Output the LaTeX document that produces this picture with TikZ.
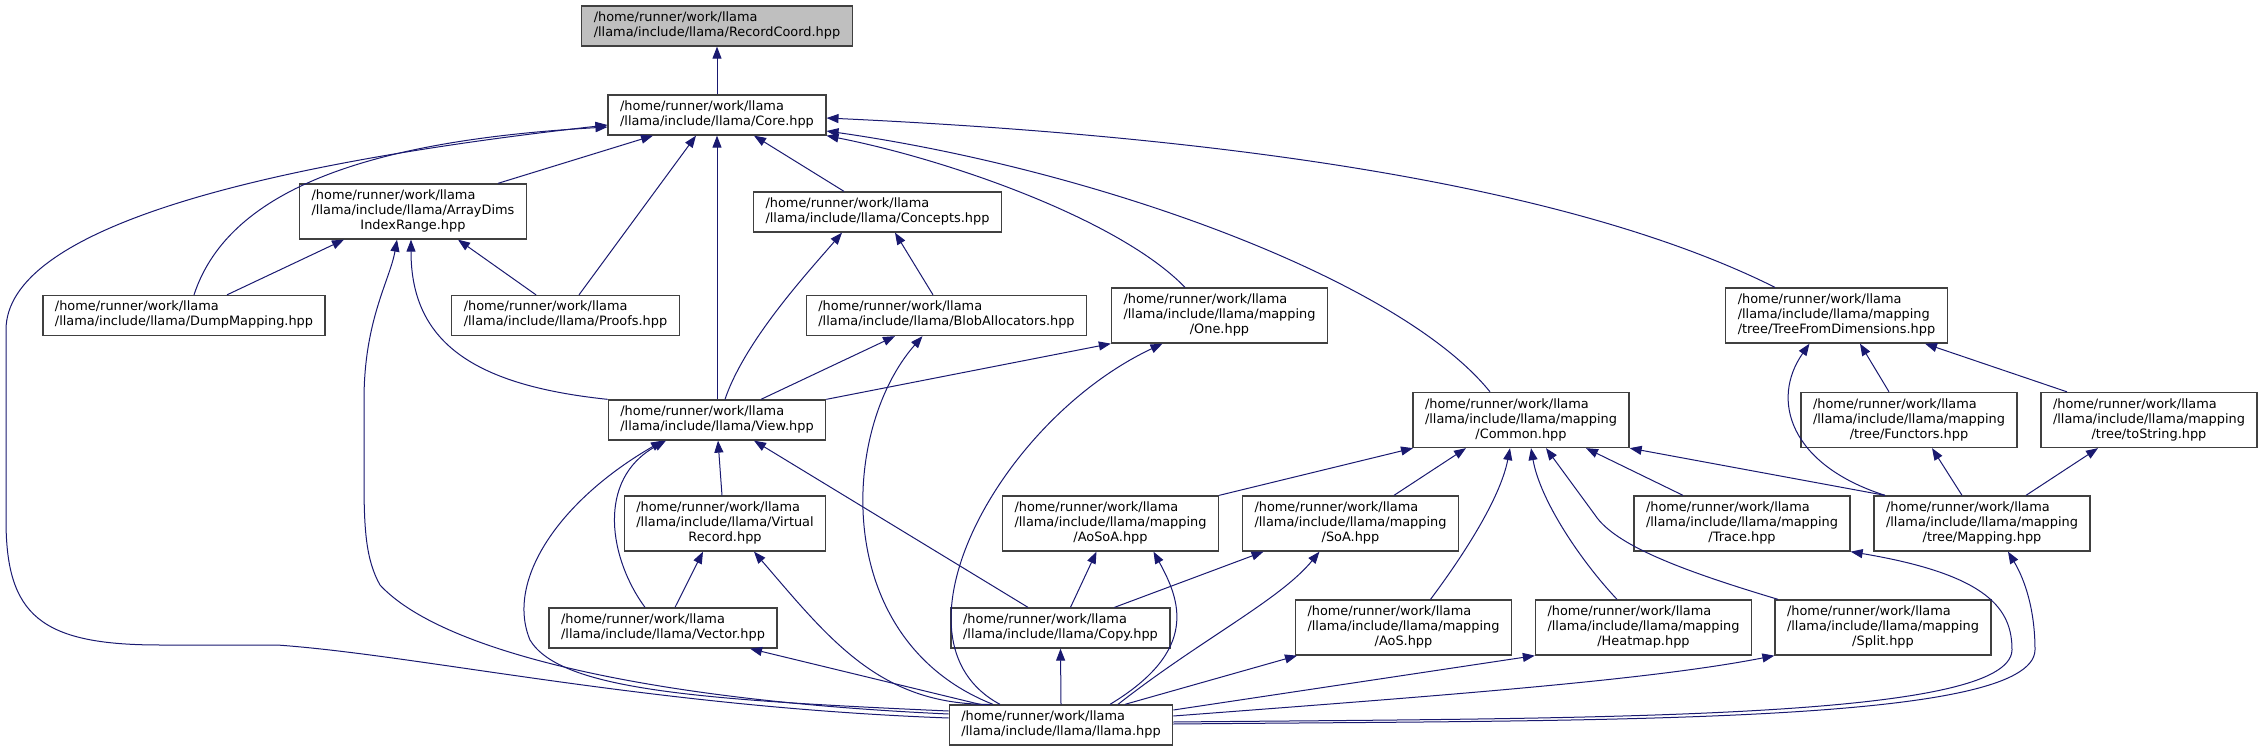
\documentclass[tikz,border=0pt]{standalone}
\usepackage{fontspec}
\setmainfont{DejaVu Sans}
\usepackage{xcolor}
\usetikzlibrary{arrows.meta}
\definecolor{cEdge}{RGB}{25,25,112}
\definecolor{cFrame}{RGB}{64,64,64}
\definecolor{cRoot}{RGB}{191,191,191}
\newcommand{\hpre}{/home/runner/work/llama}
\newcommand{\zwei}[2]{\begin{tabular}{@{}l@{}}#1\\#2\end{tabular}}
\newcommand{\drei}[3]{\begin{tabular}{@{}l@{}}#1\\#2\\\multicolumn{1}{@{}c@{}}{#3}\end{tabular}}

\begin{document}
\begin{tikzpicture}[x=1pt,y=-1pt,
  file/.style={draw=cFrame,line width=1.3pt,fill=white,inner xsep=12pt,inner ysep=5pt,font=\fontsize{12.9}{15}\selectfont},
  dep/.style={draw=cEdge,line width=1pt,-{Triangle[length=12pt,width=9pt]}}]
\useasboundingbox (0,0) rectangle (2263,751);
% files
\node[file,fill=cRoot] (rc) at (717,26) {\zwei{\hpre}{/llama/include/llama/RecordCoord.hpp}};
\node[file] (core) at (717,115) {\zwei{\hpre}{/llama/include/llama/Core.hpp}};
\node[file] (adir) at (413,211.5) {\drei{\hpre}{/llama/include/llama/ArrayDims}{IndexRange.hpp}};
\node[file] (concepts) at (877.5,212) {\zwei{\hpre}{/llama/include/llama/Concepts.hpp}};
\node[file] (dump) at (184,315.5) {\zwei{\hpre}{/llama/include/llama/DumpMapping.hpp}};
\node[file] (proofs) at (565.5,315.5) {\zwei{\hpre}{/llama/include/llama/Proofs.hpp}};
\node[file] (blob) at (946.5,315.5) {\zwei{\hpre}{/llama/include/llama/BlobAllocators.hpp}};
\node[file] (one) at (1219.5,315.5) {\drei{\hpre}{/llama/include/llama/mapping}{/One.hpp}};
\node[file] (tfd) at (1836.5,315.5) {\drei{\hpre}{/llama/include/llama/mapping}{/tree/TreeFromDimensions.hpp}};
\node[file] (view) at (717,420) {\zwei{\hpre}{/llama/include/llama/View.hpp}};
\node[file] (common) at (1521,420) {\drei{\hpre}{/llama/include/llama/mapping}{/Common.hpp}};
\node[file] (functors) at (1909,420) {\drei{\hpre}{/llama/include/llama/mapping}{/tree/Functors.hpp}};
\node[file] (tostring) at (2149,420) {\drei{\hpre}{/llama/include/llama/mapping}{/tree/toString.hpp}};
\node[file] (vrec) at (725,523.5) {\drei{\hpre}{/llama/include/llama/Virtual}{Record.hpp}};
\node[file] (aosoa) at (1110.5,523.5) {\drei{\hpre}{/llama/include/llama/mapping}{/AoSoA.hpp}};
\node[file] (soa) at (1350.5,523.5) {\drei{\hpre}{/llama/include/llama/mapping}{/SoA.hpp}};
\node[file] (trace) at (1742,523.5) {\drei{\hpre}{/llama/include/llama/mapping}{/Trace.hpp}};
\node[file] (tmap) at (1982,523.5) {\drei{\hpre}{/llama/include/llama/mapping}{/tree/Mapping.hpp}};
\node[file] (vector) at (663,628) {\zwei{\hpre}{/llama/include/llama/Vector.hpp}};
\node[file] (copy) at (1060.5,628) {\zwei{\hpre}{/llama/include/llama/Copy.hpp}};
\node[file] (aos) at (1403.5,627.5) {\drei{\hpre}{/llama/include/llama/mapping}{/AoS.hpp}};
\node[file] (heatmap) at (1643.5,627.5) {\drei{\hpre}{/llama/include/llama/mapping}{/Heatmap.hpp}};
\node[file] (split) at (1883,627.5) {\drei{\hpre}{/llama/include/llama/mapping}{/Split.hpp}};
\node[file] (llama) at (1061,725) {\zwei{\hpre}{/llama/include/llama/llama.hpp}};
% includes of Core and RecordCoord
\draw[dep] (core.north) -- (rc.south);
\draw[dep] ([xshift=85pt]adir.north) -- ([xshift=-64pt]core.south);
\draw[dep] ([xshift=10pt]dump.north) .. controls (230,185) and (380,140) .. ([yshift=-12pt]core.west);
\draw[dep] ([yshift=7pt]llama.west) .. controls (650,707) and (420,655) .. (277,645) -- (160,645)
  .. controls (40,645) and (6,615) .. (6,520) -- (6,330) .. controls (6,230) and (250,165) .. ([yshift=-10pt]core.west);
\draw[dep] ([xshift=13.5pt]proofs.north) -- ([xshift=-21pt]core.south);
\draw[dep] (view.north) -- (core.south);
\draw[dep] ([xshift=-33.5pt]concepts.north) -- ([xshift=37pt]core.south);
\draw[dep] ([xshift=-34.5pt]one.north) .. controls (1120,220) and (950,160) .. (core.south east);
\draw[dep] ([xshift=-31pt]common.north) .. controls (1400,280) and (1100,170) .. ([yshift=-16pt]core.east);
\draw[dep] ([xshift=-61.5pt]tfd.north) .. controls (1600,200) and (1300,140) .. ([yshift=-3pt]core.east);
% ArrayDims, Concepts, BlobAllocators, One
\draw[dep] ([xshift=43pt]dump.north) -- ([xshift=-69pt]adir.south);
\draw[dep] ([xshift=-29.5pt]proofs.north) -- ([xshift=45pt]adir.south);
\draw[dep] (view.north west) .. controls (470,385) and (411,340) .. ([xshift=-2pt]adir.south);
\draw[dep] ([yshift=11pt]llama.west) .. controls (640,700) and (440,650) .. (380,585)
  .. controls (366,560) and (364,530) .. (364,480) -- (364,400) .. controls (364,320) and (390,280) .. ([xshift=-16pt]adir.south);
\draw[dep] ([xshift=8pt]view.north) .. controls (745,340) and (810,270) .. ([xshift=-35.5pt]concepts.south);
\draw[dep] ([xshift=-13.5pt]blob.north) -- ([xshift=17.5pt]concepts.south);
\draw[dep] ([xshift=44pt]view.north) -- ([xshift=-51.5pt]blob.south);
\draw[dep] ([xshift=-68pt]llama.north) .. controls (830,640) and (840,430) .. ([xshift=-24pt]blob.south);
\draw[dep] (view.north east) -- (one.south west);
\draw[dep] ([xshift=-61pt]llama.north) .. controls (880,640) and (1000,420) .. ([xshift=-57pt]one.south);
% View, VirtualRecord, Vector, Copy
\draw[dep] ([xshift=-3pt]vrec.north) -- ([xshift=1pt]view.south);
\draw[dep] ([xshift=-18pt]vector.north) .. controls (610,560) and (595,480) .. ([xshift=-51pt]view.south);
\draw[dep] ([xshift=-32.5pt]copy.north) -- ([xshift=37pt]view.south);
\draw[dep] ([yshift=14pt]llama.west) .. controls (700,700) and (560,690) .. (530,640)
  .. controls (505,580) and (560,500) .. ([xshift=-54pt]view.south);
\draw[dep] ([xshift=12pt]vector.north) -- ([xshift=-22pt]vrec.south);
\draw[dep] ([xshift=-71pt]llama.north) .. controls (880,705) and (830,640) .. ([xshift=29pt]vrec.south);
\draw[dep] ([xshift=-81pt]llama.north) -- ([xshift=87pt]vector.south);
\draw[dep] (llama.north) -- (copy.south);
% mapping
\draw[dep] ([xshift=10pt]copy.north) -- ([xshift=-14pt]aosoa.south);
\draw[dep] ([xshift=49pt]llama.north) .. controls (1200,650) and (1180,600) .. ([xshift=43pt]aosoa.south);
\draw[dep] ([xshift=54pt]copy.north) -- ([xshift=-87pt]soa.south);
\draw[dep] ([xshift=57pt]llama.north) .. controls (1200,640) and (1280,600) .. ([xshift=-31pt]soa.south);
\draw[dep] (aosoa.north east) -- ([xshift=-108pt]common.south);
\draw[dep] ([xshift=43.5pt]soa.north) -- ([xshift=-55pt]common.south);
\draw[dep] ([xshift=27pt]aos.north) .. controls (1460,560) and (1500,500) .. ([xshift=-11pt]common.south);
\draw[dep] ([xshift=-26.5pt]heatmap.north) .. controls (1580,560) and (1540,500) .. ([xshift=10pt]common.south);
\draw[dep] ([xshift=-105pt]split.north) .. controls (1680,570) and (1615,545) .. (1595,515) -- ([xshift=25pt]common.south);
\draw[dep] ([xshift=-59pt]trace.north) -- ([xshift=65pt]common.south);
\draw[dep] ([xshift=-97pt]tmap.north) -- (common.south east);
\draw[dep] ([xshift=64pt]llama.north) -- ([xshift=-106.5pt]aos.south);
\draw[dep] ([yshift=15pt]llama.east) -- (heatmap.south west);
\draw[dep] ([yshift=9pt]llama.east) .. controls (1450,695) and (1650,680) .. (split.south west);
\draw[dep] ([yshift=3pt]llama.east) .. controls (1600,718) and (2010,720) .. (2012,650)
  .. controls (2012,610) and (1990,575) .. (trace.south east);
\draw[dep] ([yshift=1pt]llama.east) .. controls (1600,720) and (2033,725) .. (2035,650)
  .. controls (2035,610) and (2025,580) .. ([xshift=26pt]tmap.south);
% tree
\draw[dep] ([xshift=-20pt]functors.north) -- ([xshift=23.5pt]tfd.south);
\draw[dep] ([xshift=-82pt]tostring.north) -- ([xshift=88.5pt]tfd.south);
\draw[dep] ([xshift=-97pt]tmap.north) .. controls (1790,465) and (1770,400) .. ([xshift=-27pt]tfd.south);
\draw[dep] ([xshift=-20pt]tmap.north) -- ([xshift=23pt]functors.south);
\draw[dep] ([xshift=44pt]tmap.north) -- ([xshift=-51pt]tostring.south);
\end{tikzpicture}
\end{document}
